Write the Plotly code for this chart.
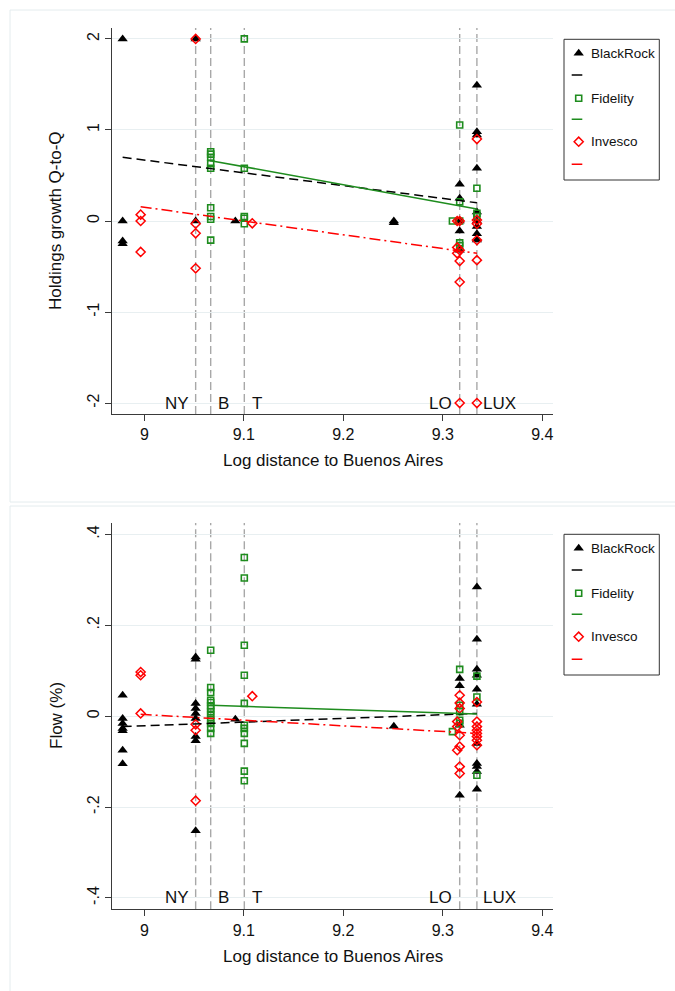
import plotly.graph_objects as go

# ---------------- data ----------------
# x positions (log distance to Buenos Aires)
X_L1 = 8.9782
X_L2 = 8.9963
X_NY = 9.0516
X_B = 9.0667
X_M1 = 9.0915
X_T = 9.1005
X_M2 = 9.1085
X_M3 = 9.2508
X_LO0 = 9.3097
X_LO1 = 9.3145
X_LO = 9.3170
X_LUX = 9.3343

city_names = ["NY", "B", "T", "LO", "LUX"]
city_lines = [X_NY, X_B, X_T, X_LO, X_LUX]
city_label_x = [9.0333, 9.0794, 9.1132, 9.2980, 9.3572]

# ---- top panel: holdings growth Q-to-Q ----
br_top_x = [X_L1] * 4 + [X_NY] * 2 + [X_M1] + [X_M3] * 2 + [X_LO] * 5 + [X_LUX] * 9
br_top_y = [2.0, 0.0, -0.22, -0.25,
            2.0, 0.0,
            0.0,
            0.0, -0.02,
            0.405, 0.25, 0.0, -0.11, -0.32,
            1.49, 0.98, 0.945, 0.58, 0.10, 0.0, -0.06, -0.14, -0.21]

fi_top_x = [X_T] * 5 + [X_B] * 9 + [X_LO, X_LO, X_LO, X_LO0, X_LO, X_LO] + [X_LUX] * 3
fi_top_y = [2.0, 0.58, 0.05, 0.03, -0.03,
            0.76, 0.735, 0.70, 0.63, 0.58, 0.146, 0.05, 0.02, -0.21,
            1.055, 0.21, 0.0, 0.0, -0.24, -0.27,
            0.36, 0.085, 0.05]

iv_top_x = ([X_L2] * 3 + [X_NY] * 4 + [X_M2]
            + [X_LO, X_LO1, X_LO1, X_LO, X_LO1, X_LO, X_LO, X_LO] + [X_LUX] * 6)
iv_top_y = [0.07, 0.0, -0.34,
            2.0, -0.03, -0.135, -0.52,
            -0.025,
            0.0, 0.0, -0.29, -0.32, -0.355, -0.44, -0.67, -2.0,
            0.90, 0.01, -0.03, -0.21, -0.43, -2.0]

# linear fits (endpoints)
br_top_fit_x = [X_L1, X_LUX]
br_top_fit_y = [0.70, 0.20]
fi_top_fit_x = [X_B, X_LUX]
fi_top_fit_y = [0.663, 0.132]
iv_top_fit_x = [X_L2, X_LUX]
iv_top_fit_y = [0.157, -0.355]

# ---- bottom panel: flow (%) ----
br_bot_x = [X_L1] * 7 + [X_NY] * 9 + [X_M1] + [X_M3] + [X_LO] * 4 + [X_LUX] * 11
br_bot_y = [0.046, -0.005, -0.016, -0.027, -0.032, -0.075, -0.105,
            0.125, 0.13, 0.028, 0.017, 0.006, -0.005, -0.045, -0.054, -0.252,
            -0.007,
            -0.022,
            0.083, 0.067, -0.02, -0.174,
            0.284, 0.169, 0.103, 0.09, 0.059, 0.026, -0.06, -0.104, -0.111, -0.122, -0.161]

fi_bot_x = [X_B] * 13 + [X_T] * 11 + [X_LO] * 5 + [X_LO0] + [X_LUX] * 3
fi_bot_y = [0.145, 0.063, 0.052, 0.035, 0.03, 0.023, 0.017, 0.01, 0.002, -0.007, -0.016, -0.027, -0.038,
            0.349, 0.304, 0.156, 0.09, 0.028, -0.02, -0.027, -0.038, -0.06, -0.121, -0.142,
            0.103, 0.024, 0.01, -0.009, -0.016,
            -0.034,
            0.088, 0.042, -0.13]

iv_bot_x = ([X_L2] * 3 + [X_NY] * 3 + [X_M2]
            + [X_LO, X_LO, X_LO, X_LO1, X_LO1, X_LO, X_LO, X_LO1, X_LO, X_LO] + [X_LUX] * 8)
iv_bot_y = [0.097, 0.09, 0.006,
            -0.018, -0.031, -0.186,
            0.044,
            0.046, 0.029, 0.017, -0.012, -0.023, -0.042, -0.067, -0.075, -0.111, -0.126,
            0.031, -0.012, -0.023, -0.031, -0.038, -0.045, -0.053, -0.064]

br_bot_fit_x = [X_L1, X_LUX]
br_bot_fit_y = [-0.023, 0.006]
fi_bot_fit_x = [X_B, X_LUX]
fi_bot_fit_y = [0.024, 0.005]
iv_bot_fit_x = [X_L2, X_LUX]
iv_bot_fit_y = [0.004, -0.038]

x_ticks = [9.0, 9.1, 9.2, 9.3, 9.4]
x_ticktext = ["9", "9.1", "9.2", "9.3", "9.4"]
top_y_ticks = [-2, -1, 0, 1, 2]
top_y_ticktext = ["-2", "-1", "0", "1", "2"]
bot_y_ticks = [-0.4, -0.2, 0.0, 0.2, 0.4]
bot_y_ticktext = ["-.4", "-.2", "0", ".2", ".4"]

series_names = ["BlackRock", "Fidelity", "Invesco"]

# ---------------- styles ----------------
W, H = 675, 991
FONT = "Liberation Sans, Arial, Helvetica, sans-serif"
BLACK = "#000000"
GREEN = "#1e8c1e"
RED = "#ff0000"
GRID = "#e8eff1"
AXIS = "#3a3a3a"
VLINE = "#a8a8a8"
BORDER = "#e4ecee"

def px_x(p):
    return p / W

def px_y(p):
    return 1 - p / H

tri = dict(symbol="triangle-up", size=9, color=BLACK, line=dict(width=0))
sq = dict(symbol="square-open", size=6, color=GREEN, line=dict(width=1.6, color=GREEN))
dia = dict(symbol="diamond-open", size=7, color=RED, line=dict(width=1.5, color=RED))

fig = go.Figure()

panels = [
    dict(xa="x", ya="y",
         pts=[(br_top_x, br_top_y, tri), (fi_top_x, fi_top_y, sq), (iv_top_x, iv_top_y, dia)],
         fits=[(br_top_fit_x, br_top_fit_y, BLACK, "9px,5px"),
               (fi_top_fit_x, fi_top_fit_y, GREEN, "solid"),
               (iv_top_fit_x, iv_top_fit_y, RED, "11px,4px,2px,4px")],
         label_y=-2.0),
    dict(xa="x2", ya="y2",
         pts=[(br_bot_x, br_bot_y, tri), (fi_bot_x, fi_bot_y, sq), (iv_bot_x, iv_bot_y, dia)],
         fits=[(br_bot_fit_x, br_bot_fit_y, BLACK, "9px,5px"),
               (fi_bot_fit_x, fi_bot_fit_y, GREEN, "solid"),
               (iv_bot_fit_x, iv_bot_fit_y, RED, "11px,4px,2px,4px")],
         label_y=-0.4),
]

shapes = []
annotations = []

for p in panels:
    # vertical reference lines
    for xv in city_lines:
        shapes.append(dict(type="line", xref=p["xa"], yref=p["ya"] + " domain",
                           x0=xv, x1=xv, y0=0, y1=1, layer="below",
                           line=dict(color=VLINE, width=1.4, dash="8px,4px")))
    for nm, lx in zip(city_names, city_label_x):
        annotations.append(dict(text=nm, x=lx, y=p["label_y"], xref=p["xa"], yref=p["ya"],
                                showarrow=False, xanchor="center", yanchor="middle",
                                font=dict(size=17, color="#111111", family=FONT)))
    for (xs, ys, mk), nm in zip(p["pts"], series_names):
        fig.add_trace(go.Scatter(x=xs, y=ys, mode="markers", marker=mk, name=nm,
                                 xaxis=p["xa"], yaxis=p["ya"], showlegend=False,
                                 cliponaxis=False))
    for xs, ys, col, dash in p["fits"]:
        fig.add_trace(go.Scatter(x=xs, y=ys, mode="lines",
                                 line=dict(color=col, width=1.5, dash=dash),
                                 xaxis=p["xa"], yaxis=p["ya"], showlegend=False))

# ---------------- custom legends (Stata style) ----------------
leg_boxes = [(564, 659.3, 39.3, 180.0, "x3", "y3"), (564, 659.3, 534.3, 675.0, "x4", "y4")]
leg_rows = [14.0, 35.7, 59.0, 80.0, 102.4, 125.0]
leg_marks = [tri, sq, dia]
leg_cols = [BLACK, GREEN, RED]
for (lx0, lx1, ly0, ly1, xa, ya) in leg_boxes:
    shapes.append(dict(type="rect", xref=xa + " domain", yref=ya + " domain",
                       x0=0, x1=1, y0=0, y1=1, line=dict(color="#333333", width=1)))
    for i, nm in enumerate(series_names):
        fig.add_trace(go.Scatter(x=[14.7], y=[leg_rows[2 * i]], mode="markers",
                                 marker=leg_marks[i], xaxis=xa, yaxis=ya,
                                 showlegend=False, hoverinfo="skip"))
        annotations.append(dict(text=nm, x=25.3, y=leg_rows[2 * i], xref=xa, yref=ya,
                                showarrow=False, xanchor="left", yanchor="middle",
                                font=dict(size=13.5, color="#111111", family=FONT)))
        shapes.append(dict(type="line", xref=xa, yref=ya, x0=7.7, x1=18.3,
                           y0=leg_rows[2 * i + 1], y1=leg_rows[2 * i + 1],
                           line=dict(color=leg_cols[i], width=1.5)))

# panel borders
shapes.append(dict(type="rect", xref="paper", yref="paper", x0=px_x(10), x1=px_x(690),
                   y0=px_y(502), y1=px_y(10), line=dict(color=BORDER, width=1), layer="below"))
shapes.append(dict(type="rect", xref="paper", yref="paper", x0=px_x(10), x1=px_x(690),
                   y0=px_y(1000), y1=px_y(506), line=dict(color=BORDER, width=1), layer="below"))

# axis titles
for ytitle, ycen, xcen in [("Holdings growth Q-to-Q", 221, 56), ("Flow (%)", 716, 56)]:
    annotations.append(dict(text=ytitle, x=px_x(xcen), y=px_y(ycen), xref="paper", yref="paper",
                            showarrow=False, textangle=-90, xanchor="center", yanchor="middle",
                            font=dict(size=17, color="#111111", family=FONT)))
for ycen in [461, 956]:
    annotations.append(dict(text="Log distance to Buenos Aires", x=px_x(332.5), y=px_y(ycen),
                            xref="paper", yref="paper", showarrow=False,
                            xanchor="center", yanchor="middle",
                            font=dict(size=17, color="#111111", family=FONT)))

xdom = [px_x(112), px_x(553)]
xcommon = dict(domain=xdom, range=[8.9675, 9.4108], tickvals=x_ticks, ticktext=x_ticktext,
               showgrid=False, zeroline=False, showline=True, linecolor=AXIS, linewidth=1.2,
               ticks="outside", ticklen=6, tickcolor=AXIS, tickwidth=1.2,
               tickfont=dict(size=16, color="#111111", family=FONT))
ycommon = dict(showgrid=True, gridcolor=GRID, gridwidth=1.2, zeroline=False, showline=True,
               linecolor=AXIS, linewidth=1.2, ticks="outside", ticklen=6, tickcolor=AXIS,
               tickwidth=1.2, tickangle=-90,
               tickfont=dict(size=16, color="#111111", family=FONT))
hidden = dict(visible=False, showgrid=False, zeroline=False, fixedrange=True)

fig.update_layout(
    width=W, height=H,
    margin=dict(l=0, r=0, t=0, b=0),
    paper_bgcolor="white", plot_bgcolor="white",
    font=dict(family=FONT, color="#111111"),
    showlegend=False,
    xaxis=dict(**xcommon, anchor="y"),
    yaxis=dict(**ycommon, domain=[px_y(414), px_y(28)], range=[-2.12, 2.12],
               tickvals=top_y_ticks, ticktext=top_y_ticktext, anchor="x"),
    xaxis2=dict(**xcommon, anchor="y2"),
    yaxis2=dict(**ycommon, domain=[px_y(909.3), px_y(523)], range=[-0.425, 0.425],
                tickvals=bot_y_ticks, ticktext=bot_y_ticktext, anchor="x2"),
    xaxis3=dict(**hidden, domain=[px_x(564), px_x(659.3)], range=[0, 95.3], anchor="y3"),
    yaxis3=dict(**hidden, domain=[px_y(180.0), px_y(39.3)], range=[140.7, 0], anchor="x3"),
    xaxis4=dict(**hidden, domain=[px_x(564), px_x(659.3)], range=[0, 95.3], anchor="y4"),
    yaxis4=dict(**hidden, domain=[px_y(675.0), px_y(534.3)], range=[140.7, 0], anchor="x4"),
    shapes=shapes,
    annotations=annotations,
)

fig.write_html("out.html")
